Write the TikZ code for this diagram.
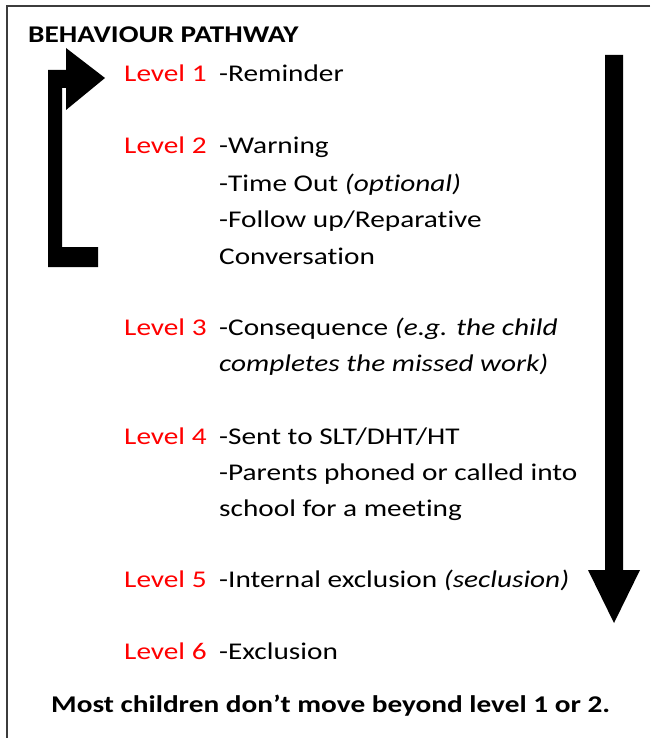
\documentclass[tikz,border=0pt]{standalone}
\usepackage{fontspec}
\setmainfont{Carlito}[FakeStretch=1.22,Ligatures=NoCommon]
\definecolor{lvlred}{RGB}{255,0,0}
\definecolor{framegray}{RGB}{60,60,60}

\begin{document}
\begin{tikzpicture}[x=1pt,y=-1pt,
  every node/.style={inner sep=0pt,anchor=base west,font=\fontsize{24}{28}\selectfont},
  lvl/.style={text=lvlred},
  item/.style={text=black}]
\useasboundingbox (0,0) rectangle (650,738);
% frame (top and left edge only)
\draw [framegray,line width=1.5pt] (650,6) -- (7,6) -- (7,738);
% title
\node (title) at (28,43) {\bfseries BEHAVIOUR PATHWAY};
% level 1
\node [lvl] (l1) at (124,82) {Level 1};
\node [item] (l1a) at (219,82) {-Reminder};
% level 2
\node [lvl] (l2) at (124,154) {Level 2};
\node [item] (l2a) at (219,154) {-Warning};
\node [item] (l2b) at (219,191) {-Time Out \emph{(optional)}};
\node [item] (l2c) at (219,227) {-Follow up/Reparative};
\node [item] (l2d) at (219,264) {Conversation};
% level 3
\node [lvl] (l3) at (124,335) {Level 3};
\node [item] (l3a) at (219,335) {-Consequence \emph{(e.g. the child}};
\node [item] (l3b) at (219,371) {\emph{completes the missed work)}};
% level 4
\node [lvl] (l4) at (124,444) {Level 4};
\node [item] (l4a) at (219,444) {-Sent to SLT/DHT/HT};
\node [item] (l4b) at (219,480) {-Parents phoned or called into};
\node [item] (l4c) at (219,516) {school for a meeting};
% level 5
\node [lvl] (l5) at (124,587) {Level 5};
\node [item] (l5a) at (219,587) {-Internal exclusion \emph{(seclusion)}};
% level 6
\node [lvl] (l6) at (124,659) {Level 6};
\node [item] (l6a) at (219,659) {-Exclusion};
% footer
\node (note) at (51,712) {\bfseries Most children don’t move beyond level 1 or 2.};
% back arrow to level 1
\fill [black] (48,267) -- (98,267) -- (98,247) -- (62,247) -- (62,88) -- (66,88)
  -- (66,110) -- (105,78) -- (66,48) -- (66,70) -- (48,70) -- cycle;
% long down arrow
\fill [black] (605,55) -- (623,55) -- (623,570) -- (640,570) -- (614,623)
  -- (588,570) -- (605,570) -- cycle;
\end{tikzpicture}
\end{document}
